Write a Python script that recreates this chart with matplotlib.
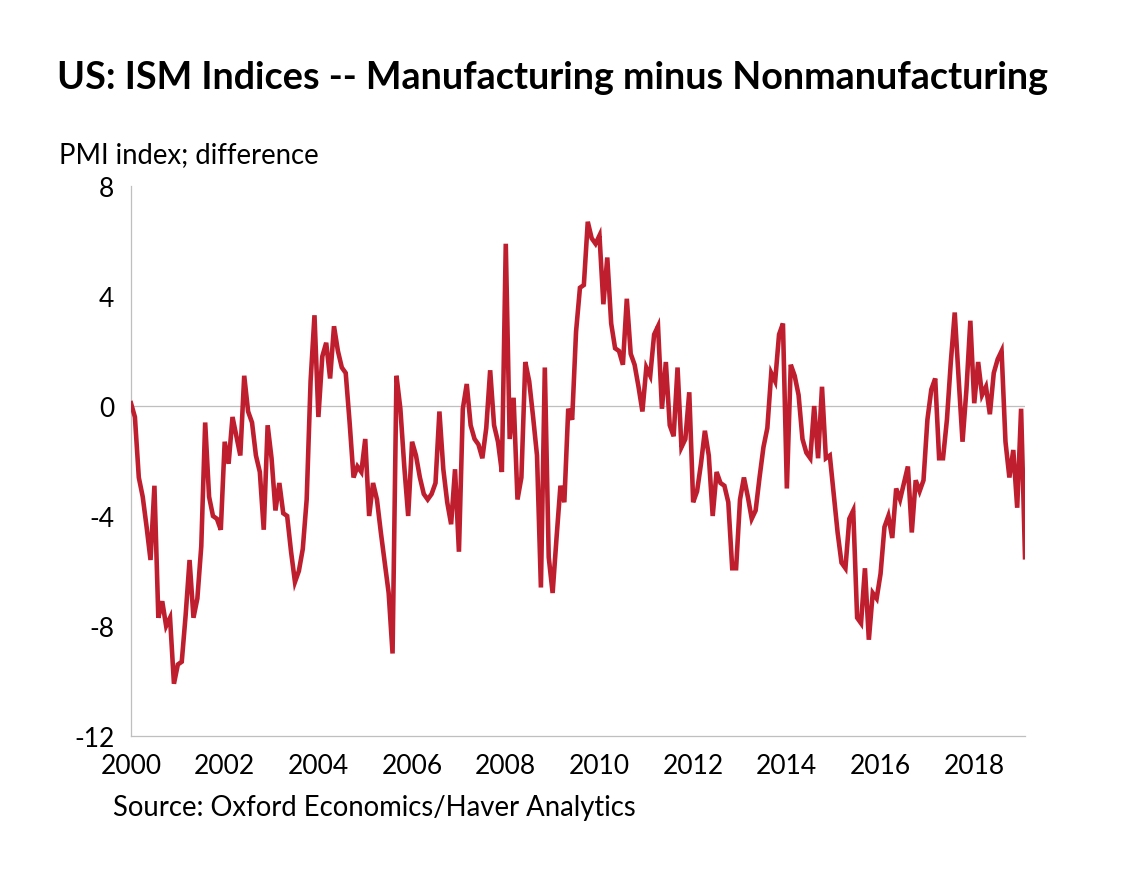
import numpy as np
import matplotlib
matplotlib.use("Agg")
import matplotlib.pyplot as plt

# monthly ISM manufacturing minus non-manufacturing, Jan 2000 .. Feb 2019
ism_diff = [
    0.1, -0.4, -2.6, -3.3, -4.4, -5.6, -2.9, -7.7, -7.1, -8.0, -7.7, -10.1,   # 2000
    -9.4, -9.3, -7.6, -5.6, -7.7, -7.0, -5.1, -0.6, -3.3, -4.0, -4.1, -4.5,   # 2001
    -1.3, -2.1, -0.4, -1.1, -1.8, 1.1, -0.2, -0.6, -1.8, -2.4, -4.5, -0.7,    # 2002
    -1.9, -3.8, -2.8, -3.9, -4.0, -5.3, -6.4, -6.0, -5.2, -3.4, 0.9, 3.3,     # 2003
    -0.4, 1.8, 2.3, 1.0, 2.9, 2.0, 1.4, 1.2, -0.6, -2.6, -2.2, -2.4,          # 2004
    -1.2, -4.0, -2.8, -3.4, -4.6, -5.7, -6.8, -9.0, 1.1, -0.1, -2.2, -4.0,    # 2005
    -1.3, -1.8, -2.6, -3.2, -3.4, -3.2, -2.8, -0.2, -2.3, -3.5, -4.3, -2.3,   # 2006
    -5.3, -0.1, 0.8, -0.7, -1.2, -1.4, -1.9, -0.8, 1.3, -0.7, -1.3, -2.4,     # 2007
    5.9, -1.2, 0.3, -3.4, -2.6, 1.6, 0.9, -0.4, -1.8, -6.6, 1.4, -5.5,        # 2008
    -6.8, -4.8, -2.9, -3.5, -0.1, -0.5, 2.7, 4.3, 4.4, 6.7, 6.1, 5.9,         # 2009
    6.2, 3.7, 5.4, 3.0, 2.1, 2.0, 1.5, 3.9, 1.9, 1.5, 0.7, -0.2,              # 2010
    1.4, 1.1, 2.6, 2.9, -0.1, 1.6, -0.7, -1.1, 1.4, -1.5, -1.2, 0.5,          # 2011
    -3.5, -3.1, -2.1, -0.9, -1.8, -4.0, -2.4, -2.8, -2.9, -3.5, -5.9, -5.9,   # 2012
    -3.4, -2.6, -3.3, -4.1, -3.8, -2.6, -1.5, -0.8, 1.2, 0.9, 2.6, 3.0,       # 2013
    -3.0, 1.5, 1.1, 0.4, -1.2, -1.7, -1.9, 0.0, -1.9, 0.7, -1.9, -1.8,        # 2014
    -3.2, -4.6, -5.7, -5.9, -4.1, -3.8, -7.7, -7.9, -5.9, -8.5, -6.8, -7.0,   # 2015
    -6.1, -4.4, -4.0, -4.8, -3.0, -3.4, -2.8, -2.2, -4.6, -2.7, -3.1, -2.7,   # 2016
    -0.5, 0.6, 1.0, -1.9, -1.9, -0.5, 1.6, 3.4, 1.0, -1.3, 0.6, 3.1,          # 2017
    0.1, 1.6, 0.4, 0.7, -0.3, 1.2, 1.7, 2.0, -1.3, -2.6, -1.6, -3.7,          # 2018
    -0.1, -5.5,                                                               # 2019
]
x_years = [2000, 2002, 2004, 2006, 2008, 2010, 2012, 2014, 2016, 2018]
y_ticks = [-12, -8, -4, 0, 4, 8]

title = "US: ISM Indices -- Manufacturing minus Nonmanufacturing"
units = "PMI index; difference"
source = "Source: Oxford Economics/Haver Analytics"

plt.rcParams['font.family'] = ['Lato', 'DejaVu Sans']
plt.rcParams['axes.unicode_minus'] = False

t = 2000 + np.arange(len(ism_diff)) / 12.0

fig = plt.figure(figsize=(11.22, 8.87), dpi=100)
ax = fig.add_axes([131 / 1122, 1 - 737 / 887, (1025 - 131) / 1122, (737 - 187) / 887])

ax.axhline(0, color="#bfbfbf", lw=0.9, zorder=1)
ax.plot(t, ism_diff, color="#BE1E2D", lw=3.3, solid_joinstyle="miter", zorder=3)

ax.set_xlim(2000, t[-1])
ax.set_ylim(-12, 8)
ax.set_xticks(x_years)
ax.set_xticklabels([str(y) for y in x_years])
ax.set_yticks(y_ticks)
ax.tick_params(length=0, labelsize=19, colors="black")
ax.tick_params(axis="y", pad=12)
ax.tick_params(axis="x", pad=12)

for side in ["top", "right"]:
    ax.spines[side].set_visible(False)
for side in ["left", "bottom"]:
    ax.spines[side].set_color("#bfbfbf")
    ax.spines[side].set_linewidth(0.9)

fig.text(57 / 1122, 1 - 78 / 887, title, fontsize=27.2, fontweight="bold", va="center", ha="left")
fig.text(59 / 1122, 1 - 155 / 887, units, fontsize=19.8, va="center", ha="left")
fig.text(113 / 1122, 1 - 808 / 887, source, fontsize=19.8, va="center", ha="left")

fig.savefig("out.png", dpi=100)
